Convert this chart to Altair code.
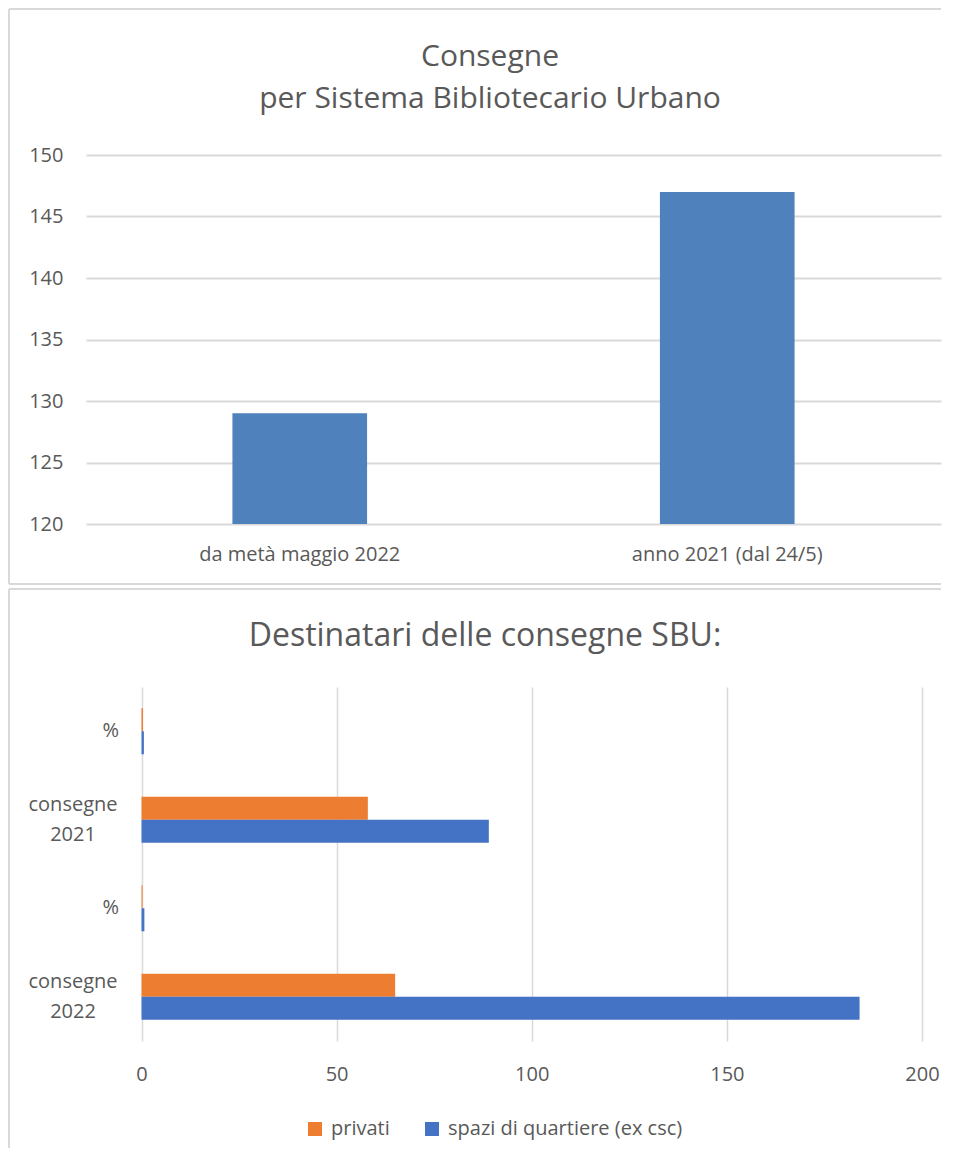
import altair as alt
import pandas as pd

# ---------------- dati: grafico 1 ----------------
periodi = ["da metà maggio 2022", "anno 2021 (dal 24/5)"]
consegne = [129, 147]
tick_y1 = [120, 125, 130, 135, 140, 145, 150]

# ---------------- dati: grafico 2 ----------------
categorie = ["consegne 2022", "% 2022", "consegne 2021", "% 2021"]
serie = ["privati", "spazi di quartiere (ex csc)"]
valori_privati = [65, 0.26, 58, 0.39]
valori_spazi = [184, 0.74, 89, 0.61]
tick_x2 = [0, 50, 100, 150, 200]

colori = ["#ED7D31", "#4472C4"]
FONT = "Open Sans"
TXT = "#595959"
GRID = "#D9D9D9"
BORDER = "#D9D9D9"

one = pd.DataFrame({"k": [0]})


def hline(x, x2, y):
    return alt.Chart(one).mark_rule(color=BORDER, strokeWidth=2).encode(
        x=alt.value(x), x2=alt.value(x2), y=alt.value(y))


def vline(x, y, y2):
    return alt.Chart(one).mark_rule(color=BORDER, strokeWidth=2).encode(
        x=alt.value(x), y=alt.value(y), y2=alt.value(y2))


W = 855  # shared plot-area width (page x 86 .. 941)

# ---------------- grafico 1 ----------------
H1 = 369
df1 = pd.DataFrame({"periodo": periodi, "consegne": consegne})

bars1 = alt.Chart(df1).mark_bar(color="#4F81BD").encode(
    x=alt.X("periodo:N", sort=periodi, title=None,
            scale=alt.Scale(paddingInner=0.685, paddingOuter=0.3425),
            axis=alt.Axis(labelAngle=0, domain=False, ticks=False, grid=False,
                          labelPadding=20)),
    y=alt.Y("consegne:Q", title=None,
            scale=alt.Scale(domain=[120, 150], nice=False, zero=False),
            axis=alt.Axis(values=tick_y1, domain=False, ticks=False, grid=True,
                          gridWidth=2, labelPadding=23)),
    y2=alt.datum(120),
)

top = alt.layer(
    bars1,
    hline(-77, W, -146),
    vline(-77, -146, 429),
    hline(-77, W, 429),
).properties(
    width=W, height=H1,
    title=alt.TitleParams(
        ["Consegne", "per Sistema Bibliotecario Urbano"],
        fontSize=30, font=FONT, color=TXT, fontWeight="normal",
        lineHeight=42, anchor="middle", offset=-106, dx=-23.5,
    ),
)

# ---------------- grafico 2 ----------------
H2 = 354
rows = []
for c, p, s in zip(categorie, valori_privati, valori_spazi):
    rows.append({"categoria": c, "serie": serie[0], "valore": p})
    rows.append({"categoria": c, "serie": serie[1], "valore": s})
df2 = pd.DataFrame(rows)
ordine = list(reversed(categorie))

IS_PCT = "indexof(datum.value, '%') == 0"

bars2 = alt.Chart(df2).mark_bar().encode(
    y=alt.Y("categoria:N", sort=ordine, title=None,
            scale=alt.Scale(paddingInner=0.48, paddingOuter=0.24),
            axis=alt.Axis(domain=False, ticks=False, grid=False,
                          offset=-55.5, labelLineHeight=30,
                          labelPadding={"condition": {"test": IS_PCT, "value": 23},
                                        "value": 69},
                          labelAlign={"condition": {"test": IS_PCT, "value": "right"},
                                      "value": "center"},
                          labelOffset={"condition": {"test": IS_PCT, "value": 0},
                                       "value": -15},
                          labelExpr="indexof(datum.label, '%') == 0 ? '%' : split(datum.label, ' ')")),
    x=alt.X("valore:Q", title=None,
            scale=alt.Scale(domain=[0, 200], nice=False, range=[55.5, 836]),
            axis=alt.Axis(values=tick_x2, domain=False, ticks=False, grid=True,
                          gridWidth=1.5, labelPadding=23, labelFlush=False)),
    yOffset=alt.YOffset("serie:N", sort=serie,
                        scale=alt.Scale(paddingInner=0, paddingOuter=0)),
    color=alt.Color("serie:N", sort=serie,
                    scale=alt.Scale(domain=serie, range=colori),
                    legend=alt.Legend(title=None, orient="none", direction="horizontal",
                                      legendX=219, legendY=432, padding=0,
                                      symbolType="square", symbolSize=196,
                                      symbolStrokeWidth=0, labelOffset=6,
                                      columnPadding=32, labelLimit=500)),
)

bottom = alt.layer(
    bars2,
    hline(-77, W, -98),
    vline(-77, -98, 461),
).properties(
    width=W, height=H2,
    title=alt.TitleParams(
        "Destinatari delle consegne SBU:",
        fontSize=32, font=FONT, color=TXT, fontWeight="normal",
        anchor="middle", offset=-64.5, dx=-28.5,
    ),
)

chart = alt.concat(top, bottom, columns=1, spacing=3).resolve_legend(
    color="independent"
).properties(
    padding=0
).configure_view(
    stroke=None
).configure_axis(
    labelFont=FONT, labelFontSize=20, labelColor=TXT, gridColor=GRID, labelLimit=500
).configure_legend(
    labelFont=FONT, labelFontSize=20, labelColor=TXT
).configure_title(
    font=FONT
)

chart.save("out.html", embed_options={"renderer": "svg", "actions": False})
